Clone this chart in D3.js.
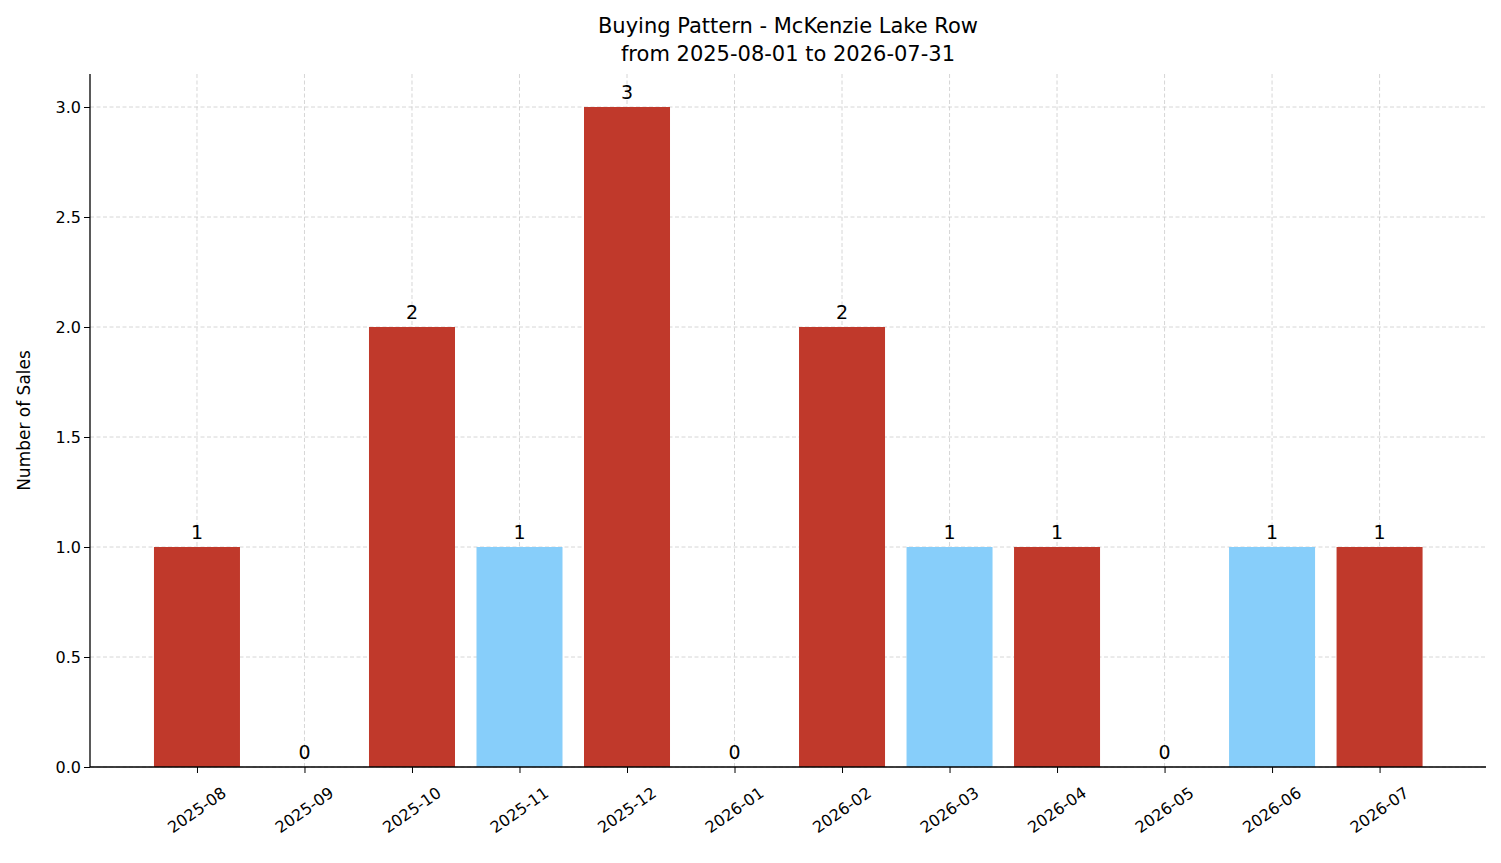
<!DOCTYPE html>
<html><head><meta charset="utf-8">
<script src="https://cdn.jsdelivr.net/npm/d3@7"></script>
<style>body{margin:0;background:#fff}text{font-family:"DejaVu Sans",sans-serif;fill:#000}</style>
</head><body><svg id="c" width="1501" height="863"></svg>
<script>
const months=["2025-08","2025-09","2025-10","2025-11","2025-12","2026-01","2026-02","2026-03","2026-04","2026-05","2026-06","2026-07"];
const sales=[1,0,2,1,3,0,2,1,1,0,1,1];
const colorKeys=["r","r","r","b","r","r","r","b","r","r","b","r"];
const yTicks=[0,0.5,1,1.5,2,2.5,3];
const palette={r:"#c0392b",b:"#87cefa"};

const svg=d3.select("#c");
const L=90,R=1486,T=74,B=767;
const x=d3.scaleLinear().domain([-0.995,11.99]).range([L,R]);
const y=d3.scaleLinear().domain([0,3.15]).range([B,T]);
const bw=x(0.8)-x(0);

const g=svg.append("g");
yTicks.forEach(t=>g.append("line").attr("x1",L).attr("x2",R).attr("y1",y(t)).attr("y2",y(t)).attr("stroke","#ccc").attr("stroke-width",0.8).attr("stroke-dasharray","4,2.5"));
months.forEach((m,i)=>{
  svg.append("rect").attr("x",x(i)-bw/2).attr("y",y(sales[i])).attr("width",bw).attr("height",B-y(sales[i])).attr("fill",palette[colorKeys[i]]);
});
months.forEach((m,i)=>g.append("line").attr("x1",x(i)).attr("x2",x(i)).attr("y1",T).attr("y2",B).attr("stroke","#ccc").attr("stroke-width",0.8).attr("stroke-dasharray","4,2.5"));
months.forEach((m,i)=>svg.append("text").attr("x",x(i)).attr("y",y(sales[i])-8).attr("text-anchor","middle").attr("font-size",19).text(sales[i]));

const xa=svg.append("g").attr("transform",`translate(0,${B})`).call(d3.axisBottom(x).tickValues(d3.range(12)).tickFormat(i=>months[i]).tickSizeOuter(0).tickSize(6));
xa.selectAll("text").attr("font-size",16).attr("text-anchor","middle").attr("dy",null).attr("y",null).attr("dominant-baseline","middle").attr("transform","translate(0,44) rotate(-35)");
const ya=svg.append("g").attr("transform",`translate(${L},0)`).call(d3.axisLeft(y).tickValues(yTicks).tickFormat(d3.format(".1f")).tickSizeOuter(0).tickSize(6));
ya.selectAll("text").attr("font-size",16);
svg.selectAll(".domain").attr("stroke","#000").attr("stroke-width",1.3);
svg.selectAll(".tick line").attr("stroke","#000");
svg.select(".domain");
xa.select(".domain").attr("d",`M${L},0H${R}`);
ya.select(".domain").attr("d",`M0,${B}V${T}`);

svg.append("text").attr("x",(L+R)/2).attr("y",33).attr("text-anchor","middle").attr("font-size",21).text("Buying Pattern - McKenzie Lake Row");
svg.append("text").attr("x",(L+R)/2).attr("y",61).attr("text-anchor","middle").attr("font-size",21).text("from 2025-08-01 to 2026-07-31");
svg.append("text").attr("transform",`translate(30,${(T+B)/2}) rotate(-90)`).attr("text-anchor","middle").attr("font-size",17).text("Number of Sales");
</script></body></html>
